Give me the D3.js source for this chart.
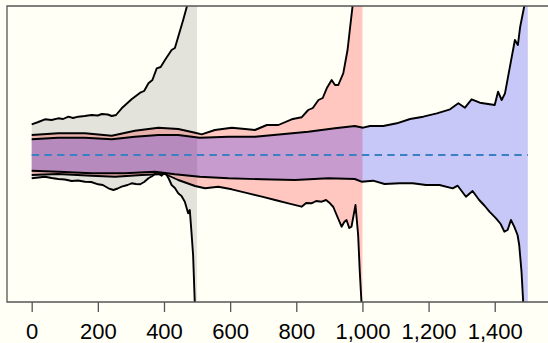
<!DOCTYPE html>
<html>
<head>
<meta charset="utf-8">
<script src="https://cdn.jsdelivr.net/npm/d3@7"></script>
<style>
  body { margin: 0; background: #fffff6; }
  svg { display: block; }
</style>
</head>
<body>
<script>
// tick labels on the x axis
var xTicks = [0, 200, 400, 600, 800, 1000, 1200, 1400];

// horizon of each band
var horizons = [500, 1000, 1500];

// boundaries: [step, value]
var grayUpper = [[0,0.307],[20,0.33],[40,0.357],[60,0.35],[80,0.367],[95,0.36],[111,0.383],[125,0.37],[141,0.383],
  [160,0.39],[181,0.40],[200,0.395],[212,0.41],[230,0.405],[242,0.39],[255,0.40],
  [272,0.467],[302,0.557],[328,0.623],[340,0.64],[353,0.717],[365,0.75],[378,0.867],[390,0.88],[403,0.95],[423,1.05],
  [433,1.07],[443,1.183],[458,1.35],[469,1.483],[480,1.8],[500,4]];
var grayLower = [[0,-0.233],[20,-0.225],[40,-0.217],[60,-0.23],[80,-0.24],[100,-0.245],[121,-0.26],[140,-0.255],
  [161,-0.267],[180,-0.27],[201,-0.293],[215,-0.30],[232,-0.333],[247,-0.35],[260,-0.335],
  [272,-0.317],[290,-0.30],[302,-0.283],[315,-0.29],[328,-0.293],[340,-0.27],[353,-0.233],[365,-0.21],[378,-0.173],
  [385,-0.19],[393,-0.207],[400,-0.18],[408,-0.20],[415,-0.24],[423,-0.30],
  [433,-0.33],[443,-0.383],[453,-0.41],[463,-0.467],[473,-0.583],[478,-0.55],[483,-0.767],[488,-1.0],[493,-1.467],
  [497,-2],[500,-4]];

var redUpper = [[0,0.20],[80,0.217],[161,0.217],[242,0.193],[312,0.243],[383,0.273],[443,0.26],[494,0.223],
  [514,0.207],[554,0.25],[605,0.273],[645,0.26],[675,0.25],[711,0.30],[746,0.30],[786,0.357],[816,0.377],
  [836,0.45],[850,0.47],[867,0.55],[880,0.57],[892,0.667],[907,0.75],[917,0.70],[927,0.70],[942,0.817],[955,1.05],
  [963,1.283],[970,1.483],[980,2],[1000,4]];
var redLower = [[0,-0.20],[80,-0.19],[181,-0.207],[252,-0.217],[333,-0.20],[403,-0.19],[443,-0.25],[494,-0.31],
  [524,-0.333],[564,-0.317],[605,-0.343],[655,-0.383],[696,-0.417],[736,-0.45],[776,-0.483],[816,-0.517],
  [830,-0.48],[846,-0.483],[860,-0.46],[877,-0.467],[890,-0.45],[902,-0.483],[912,-0.52],[922,-0.60],[937,-0.717],
  [945,-0.67],[952,-0.65],[960,-0.73],[967,-0.717],[979,-0.50],[987,-0.80],[992,-1.167],[997,-1.467],[1000,-4]];

var blueUpper = [[0,0.157],[80,0.173],[161,0.173],[242,0.157],[312,0.183],[383,0.20],[443,0.20],[508,0.173],
  [595,0.183],[675,0.183],[756,0.207],[836,0.233],[917,0.267],[977,0.29],[1002,0.273],[1023,0.29],[1063,0.29],
  [1104,0.317],[1144,0.36],[1184,0.383],[1225,0.417],[1265,0.457],[1290,0.517],[1310,0.473],[1330,0.557],
  [1355,0.523],[1385,0.507],[1400,0.50],[1410,0.633],[1421,0.55],[1431,0.617],[1446,0.883],[1461,1.15],
  [1470,1.10],[1477,1.283],[1487,1.45],[1493,1.55],[1500,4]];
var blueLower = [[0,-0.157],[80,-0.167],[181,-0.183],[282,-0.183],[373,-0.167],[433,-0.193],[508,-0.217],
  [595,-0.233],[696,-0.243],[796,-0.25],[897,-0.233],[977,-0.24],[997,-0.267],[1032,-0.257],[1067,-0.29],
  [1112,-0.283],[1152,-0.283],[1192,-0.30],[1233,-0.30],[1273,-0.333],[1288,-0.307],[1313,-0.417],[1333,-0.36],
  [1353,-0.45],[1370,-0.51],[1384,-0.567],[1404,-0.633],[1418,-0.69],[1429,-0.767],[1439,-0.75],[1449,-0.65],
  [1459,-0.717],[1469,-0.80],[1474,-0.90],[1481,-1.167],[1486,-1.467],[1500,-4]];

var bands = [
  {upper: grayUpper, lower: grayLower, color: "#808080"},
  {upper: redUpper, lower: redLower, color: "#ff0000"},
  {upper: blueUpper, lower: blueLower, color: "#0000ff"}
];

var W = 548, H = 343;
var padLeft = 7, padTop = 6, padBottom = 302;

var svg = d3.select("body").append("svg")
  .attr("width", W)
  .attr("height", H)
  .style("background", "#fffff6");

var x = d3.scaleLinear().domain([0, 1500]).range([31.7, 527.8]);
var y = d3.scaleLinear().domain([-1.47, 1.49]).range([padBottom, padTop]);

svg.append("clipPath").attr("id", "clip")
  .append("rect")
  .attr("x", padLeft).attr("y", padTop)
  .attr("width", W - padLeft).attr("height", padBottom - padTop);

var plot = svg.append("g").attr("clip-path", "url(#clip)");

var line = d3.line().x(d => x(d[0])).y(d => y(d[1]));

// filled bands
plot.selectAll("path.band")
  .data(bands)
  .join("path")
  .attr("class", "band")
  .attr("d", d => line(d.upper.concat(d.lower.slice().reverse())) + "Z")
  .attr("fill", d => d.color)
  .attr("fill-opacity", 0.22)
  .attr("stroke", "none");

// dashed centre line
plot.append("path")
  .attr("d", line([[0, 0], [d3.max(horizons), 0]]))
  .attr("stroke", "#3b7fc4")
  .attr("stroke-width", 2)
  .attr("stroke-dasharray", "7.4,5.3")
  .attr("fill", "none");

// boundary lines
var edges = [];
bands.forEach(b => { edges.push(b.upper); edges.push(b.lower); });

plot.selectAll("path.edge")
  .data(edges)
  .join("path")
  .attr("class", "edge")
  .attr("d", line)
  .attr("fill", "none")
  .attr("stroke", "#000")
  .attr("stroke-width", 1.9)
  .attr("stroke-linejoin", "round");

// x axis
var xAxis = svg.append("g")
  .attr("transform", "translate(0," + padBottom + ")")
  .call(d3.axisBottom(x).tickValues(xTicks).tickFormat(d3.format(",")).tickSize(10).tickSizeOuter(0));

xAxis.select(".domain").remove();
xAxis.selectAll(".tick line").attr("stroke", "#555").attr("stroke-width", 1.3);
xAxis.selectAll(".tick text")
  .attr("y", 37)
  .attr("dy", null)
  .attr("fill", "#000")
  .style("font-family", "'Liberation Sans', Arial, sans-serif")
  .style("font-size", "22px");

// spines: left, top, bottom
svg.append("path")
  .attr("d", "M" + W + "," + padTop + "H" + padLeft + "V" + padBottom + "H" + W)
  .attr("fill", "none")
  .attr("stroke", "#555")
  .attr("stroke-width", 1.3);
</script>
</body>
</html>
